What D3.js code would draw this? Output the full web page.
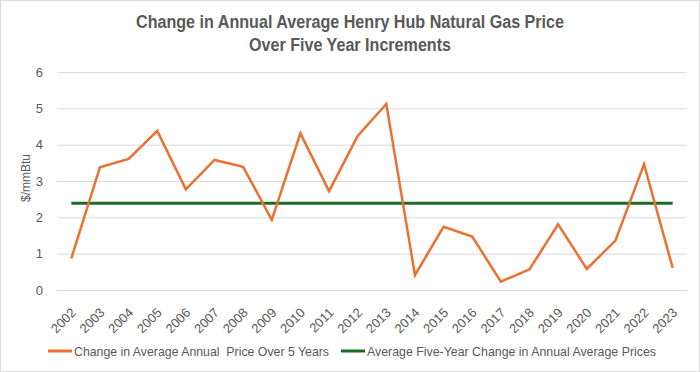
<!doctype html>
<html lang="en">
<head>
<meta charset="utf-8">
<title>Henry Hub five year change</title>
<style>
html, body {
	margin: 0;
	padding: 0;
	background: #fff;
}
svg {
	display: block;
	font-family: 'Liberation Sans', Arial, sans-serif;
}
.grid line {
	stroke: #d9d9d9;
	stroke-width: 1px;
}
.tick text {
	fill: #595959;
	font-size: 13px;
}
.leg text {
	white-space: pre;
}
</style>
</head>
<body>
<div id="chart"></div>
<script src="https://cdnjs.cloudflare.com/ajax/libs/d3/7.8.5/d3.min.js"></script>
<script>
// data
var years = ['2002', '2003', '2004', '2005', '2006', '2007', '2008', '2009', '2010', '2011', '2012',
	'2013', '2014', '2015', '2016', '2017', '2018', '2019', '2020', '2021', '2022', '2023'];
var changes = [0.87, 3.38, 3.61, 4.38, 2.77, 3.58, 3.39, 1.93, 4.31, 2.72, 4.24,
	5.12, 0.41, 1.74, 1.47, 0.23, 0.57, 1.81, 0.58, 1.36, 3.46, 0.61];
var avgChange = 2.39;
var yTicks = [0, 1, 2, 3, 4, 5, 6];
var titleLines = ['Change in Annual Average Henry Hub Natural Gas Price', 'Over Five Year Increments'];
var legendLabels = ['Change in Average Annual  Price Over 5 Years', 'Average Five-Year Change in Annual Average Prices'];

var W = 700, H = 372;
var ORANGE = '#e97132', GREEN = '#196b24', GREY = '#595959';
var plot = { left: 57, right: 687, top: 72, bottom: 290 };

var svg = d3.select('#chart').append('svg')
	.attr('width', W)
	.attr('height', H);

// outer frame
svg.append('rect')
	.attr('x', 0.5).attr('y', 0.5)
	.attr('width', W - 1).attr('height', H - 1)
	.attr('fill', '#fff')
	.attr('stroke', '#d9d9d9');

var x = d3.scaleBand().domain(years).range([plot.left, plot.right]);
var y = d3.scaleLinear().domain([0, 6]).range([plot.bottom, plot.top]);
var cx = function (d) { return x(d) + x.bandwidth() / 2; };

// title (the original font is a narrow one, so squeeze to its width)
var titleLen = [428, 202];
svg.selectAll('.title').data(titleLines).enter()
	.append('text')
	.attr('class', 'title')
	.attr('x', W / 2)
	.attr('y', function (d, i) { return 28 + i * 23; })
	.attr('text-anchor', 'middle')
	.attr('fill', GREY)
	.attr('font-size', 18)
	.attr('font-weight', 'bold')
	.attr('textLength', function (d, i) { return titleLen[i]; })
	.attr('lengthAdjust', 'spacingAndGlyphs')
	.text(function (d) { return d; });

// gridlines + y labels
var yAxis = d3.axisLeft(y)
	.tickValues(yTicks)
	.tickFormat(d3.format('d'))
	.tickSize(-(plot.right - plot.left))
	.tickPadding(14);
svg.append('g')
	.attr('class', 'grid')
	.attr('transform', 'translate(' + plot.left + ',0)')
	.call(yAxis)
	.call(function (g) { g.select('.domain').remove(); });

// x labels, rotated
var xAxis = d3.axisBottom(x).tickSize(0).tickPadding(6);
svg.append('g')
	.attr('transform', 'translate(0,' + plot.bottom + ')')
	.call(xAxis)
	.call(function (g) {
		g.select('.domain').remove();
		g.selectAll('text')
			.attr('text-anchor', 'end')
			.attr('dy', '0.35em')
			.attr('transform', 'translate(-2,16) rotate(-45)');
	});

// y title
svg.append('text')
	.attr('transform', 'translate(30,178) rotate(-90)')
	.attr('text-anchor', 'middle')
	.attr('fill', GREY)
	.attr('font-size', 12)
	.text('$/mmBtu');

// average line
svg.append('line')
	.attr('x1', cx(years[0]))
	.attr('x2', cx(years[years.length - 1]))
	.attr('y1', y(avgChange))
	.attr('y2', y(avgChange))
	.attr('stroke', GREEN)
	.attr('stroke-width', 3);

// change series
var line = d3.line()
	.x(function (d, i) { return cx(years[i]); })
	.y(function (d) { return y(d); });
svg.append('path')
	.datum(changes)
	.attr('d', line)
	.attr('fill', 'none')
	.attr('stroke', ORANGE)
	.attr('stroke-width', 2.5)
	.attr('stroke-linejoin', 'miter');

// legend
var legendX = [48, 341];
var legendLen = [255, 289];
var leg = svg.selectAll('.leg').data(legendLabels).enter()
	.append('g')
	.attr('class', 'leg')
	.attr('transform', function (d, i) { return 'translate(' + legendX[i] + ',351)'; });
leg.append('line')
	.attr('x1', 0).attr('x2', 24)
	.attr('stroke', function (d, i) { return i ? GREEN : ORANGE; })
	.attr('stroke-width', 3);
leg.append('text')
	.attr('x', 26)
	.attr('dy', '0.35em')
	.attr('fill', GREY)
	.attr('font-size', 13)
	.attr('textLength', function (d, i) { return legendLen[i]; })
	.attr('lengthAdjust', 'spacingAndGlyphs')
	.text(function (d) { return d; });
</script>
</body>
</html>
